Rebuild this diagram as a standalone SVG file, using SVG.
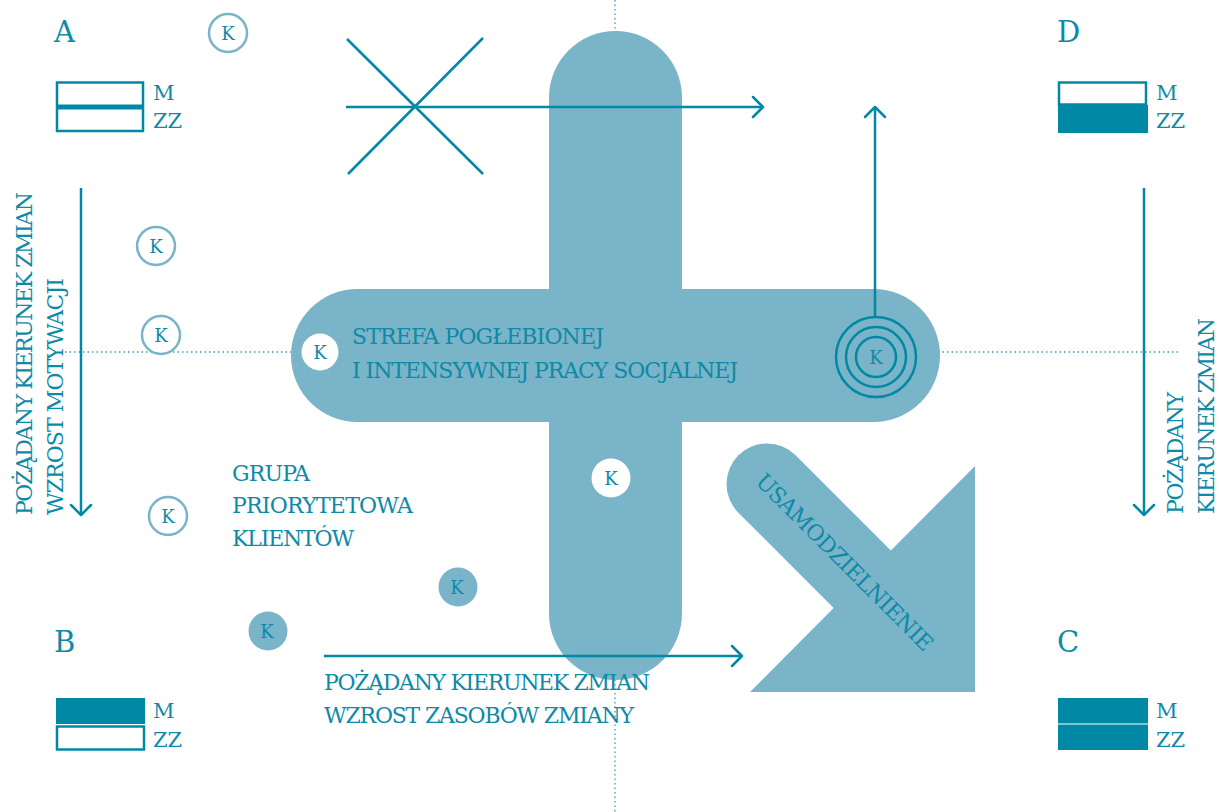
<svg xmlns="http://www.w3.org/2000/svg" width="1219" height="812" viewBox="0 0 1219 812">
<style>
text{font-family:"DejaVu Serif","Liberation Serif",serif;fill:#0e8aa7}
.lbl{font-size:22px}
.big{font-size:29px}
.leg{font-size:21px}
.k{font-size:18px;text-anchor:middle}
.ln{fill:none;stroke:#0088a5;stroke-width:2.5}
.dot{fill:none;stroke:#3c9fba;stroke-width:1.3;stroke-dasharray:1.5 3}
.light{fill:#7ab4c8}
.kout{fill:#fff;stroke:#7ab4c8;stroke-width:2.5}
.kwhite{fill:#fff}
.kfill{fill:#7ab4c8}
.box{fill:#fff;stroke:#0088a5;stroke-width:2.5}
.solid{fill:#0088a5}
</style>
<defs>
<marker id="chev" viewBox="-12 -12 14 24" markerWidth="14" markerHeight="24" refX="0" refY="0" orient="auto" markerUnits="userSpaceOnUse">
<path d="M-10,-10 L0,0 L-10,10" fill="none" stroke="#0088a5" stroke-width="2.5" stroke-linecap="round" stroke-linejoin="round"/>
</marker>
</defs>
<rect width="1219" height="812" fill="#fff"/>
<g id="guides">
<line class="dot" x1="615" y1="0" x2="615" y2="812"/>
<line class="dot" x1="65" y1="352" x2="1178" y2="352"/>
</g>
<g id="zone">
<rect class="light" x="549" y="31" width="133" height="649" rx="66.5"/>
<rect class="light" x="291" y="289" width="649" height="133" rx="66.5"/>
<text class="lbl" x="352" y="344" textLength="252">STREFA POGŁEBIONEJ</text>
<text class="lbl" x="352" y="378" textLength="386">I INTENSYWNEJ PRACY SOCJALNEJ</text>
</g>
<g id="independence">
<line x1="767" y1="484" x2="900" y2="617" stroke="#7ab4c8" stroke-width="81" stroke-linecap="round"/>
<polygon class="light" points="975,466 975,692 750,692"/>
<text class="lbl" transform="translate(845,562) rotate(45)" x="0" y="8" text-anchor="middle" textLength="240">USAMODZIELNIENIE</text>
</g>
<g id="connectors">
<line class="ln" x1="347" y1="39" x2="483" y2="174"/>
<line class="ln" x1="483" y1="38" x2="348" y2="174"/>
<line class="ln" x1="346" y1="107" x2="763" y2="107" marker-end="url(#chev)"/>
<line class="ln" x1="875" y1="317" x2="875" y2="107" marker-end="url(#chev)"/>
<line class="ln" x1="81" y1="188" x2="81" y2="515" marker-end="url(#chev)"/>
<line class="ln" x1="1144" y1="188" x2="1144" y2="515" marker-end="url(#chev)"/>
<line class="ln" x1="324" y1="656" x2="742" y2="656" marker-end="url(#chev)"/>
</g>
<g id="legend-a">
<text class="big" x="54" y="42">A</text>
<rect class="box" x="57" y="82.5" width="86" height="48.5"/>
<line x1="57" y1="107" x2="143" y2="107" stroke="#0088a5" stroke-width="5"/>
<text class="leg" x="153" y="100">M</text>
<text class="leg" x="153" y="128">ZZ</text>
</g>
<g id="legend-d">
<text class="big" x="1057" y="42">D</text>
<rect class="box" x="1059" y="82.5" width="87" height="22"/>
<rect class="solid" x="1058" y="105" width="90" height="28"/>
<text class="leg" x="1156" y="100">M</text>
<text class="leg" x="1156" y="128">ZZ</text>
</g>
<g id="legend-b">
<text class="big" x="54" y="652">B</text>
<rect class="solid" x="56" y="698" width="89" height="26"/>
<rect class="box" x="57" y="726.5" width="87" height="23"/>
<text class="leg" x="153" y="718">M</text>
<text class="leg" x="153" y="747">ZZ</text>
</g>
<g id="legend-c">
<text class="big" x="1057" y="652">C</text>
<rect class="solid" x="1058" y="698" width="90" height="25.5"/>
<rect class="solid" x="1058" y="724.5" width="90" height="25.5"/>
<text class="leg" x="1156" y="718">M</text>
<text class="leg" x="1156" y="747">ZZ</text>
</g>
<g id="label-motivation">
<text class="lbl" transform="translate(31.5,515) rotate(-90)" textLength="323">POŻĄDANY KIERUNEK ZMIAN</text>
<text class="lbl" transform="translate(63,515) rotate(-90)" textLength="237">WZROST MOTYWACJI</text>
</g>
<g id="label-right">
<text class="lbl" transform="translate(1183,514) rotate(-90)" textLength="122">POŻĄDANY</text>
<text class="lbl" transform="translate(1214,514) rotate(-90)" textLength="196">KIERUNEK ZMIAN</text>
</g>
<g id="label-resources">
<text class="lbl" x="324" y="690" textLength="326">POŻĄDANY KIERUNEK ZMIAN</text>
<text class="lbl" x="324" y="723" textLength="310">WZROST ZASOBÓW ZMIANY</text>
</g>
<g id="label-group">
<text class="lbl" x="232" y="481" textLength="78">GRUPA</text>
<text class="lbl" x="232" y="513" textLength="181">PRIORYTETOWA</text>
<text class="lbl" x="232" y="546" textLength="122">KLIENTÓW</text>
</g>
<g id="k1"><circle class="kout" cx="228" cy="33" r="19"/><text class="k" x="228" y="39.5">K</text></g>
<g id="k2"><circle class="kout" cx="156" cy="246" r="19"/><text class="k" x="156" y="252.5">K</text></g>
<g id="k3"><circle class="kout" cx="161" cy="335" r="19"/><text class="k" x="161" y="341.5">K</text></g>
<g id="k4"><circle class="kout" cx="168" cy="516" r="19"/><text class="k" x="168" y="522.5">K</text></g>
<g id="k5"><circle class="kwhite" cx="320" cy="352" r="18.5"/><text class="k" x="320" y="358.5">K</text></g>
<g id="k6"><circle class="kwhite" cx="611" cy="478" r="19.5"/><text class="k" x="611" y="484.5">K</text></g>
<g id="k7"><circle class="kfill" cx="458" cy="587" r="19.5"/><text class="k" x="457" y="593.5">K</text></g>
<g id="k8"><circle class="kfill" cx="268" cy="631" r="19.5"/><text class="k" x="267" y="637.5">K</text></g>
<g id="k-target">
<circle class="ln" cx="876" cy="357" r="20"/>
<circle class="ln" cx="876" cy="357" r="30"/>
<circle class="ln" cx="876" cy="357" r="40"/>
<text class="k" x="876" y="363.5">K</text>
</g>
</svg>
